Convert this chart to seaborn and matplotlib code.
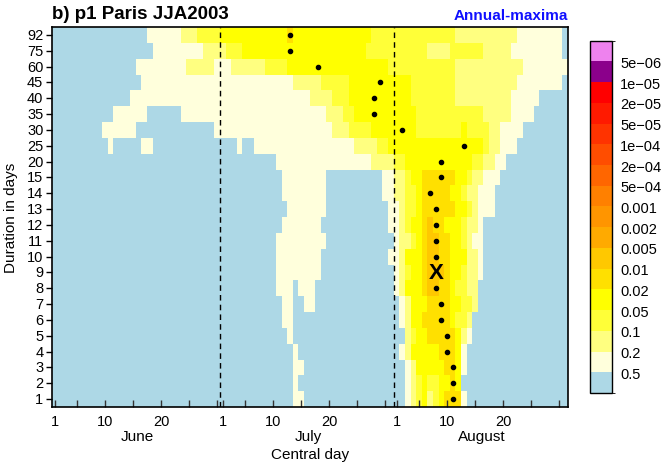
import numpy as np
import pandas as pd
import matplotlib
matplotlib.use("Agg")
import matplotlib.pyplot as plt
import seaborn as sns
from matplotlib.colors import ListedColormap, BoundaryNorm

# ---------------- data ----------------
durations = [92, 75, 60, 45, 40, 35, 30, 25, 20, 15, 14, 13, 12, 11, 10, 9, 8, 7, 6, 5, 4, 3, 2, 1]

# p-value class per central day (1 June .. 31 August = 92 days), run-length coded (class, n_days)
# class 0: >0.5, 1: 0.2-0.5, 2: 0.1-0.2, 3: 0.05-0.1, 4: 0.02-0.05, 5: 0.01-0.02, 6: 0.005-0.01
class_runs = [
    [(0,17),(1,6),(2,3),(3,4),(4,12),(5,1),(4,14),(3,15),(2,11),(1,8),(0,1)],                       # 92
    [(0,18),(1,9),(2,4),(3,3),(4,22),(3,11),(2,4),(3,6),(2,5),(1,9),(0,1)],                         # 75
    [(0,15),(1,9),(2,5),(1,3),(2,6),(3,4),(4,18),(3,12),(2,12),(1,8)],                              # 60
    [(0,16),(1,27),(2,5),(3,5),(4,11),(3,8),(2,11),(1,8),(0,1)],                                    # 45
    [(0,14),(1,32),(2,4),(3,3),(4,11),(3,8),(2,10),(1,5),(0,5)],                                    # 40
    [(0,11),(1,6),(0,6),(1,26),(2,3),(3,2),(4,11),(3,12),(2,5),(1,4),(0,6)],                        # 35
    [(0,9),(1,6),(0,14),(1,21),(2,3),(3,4),(4,8),(3,8),(4,1),(3,4),(2,2),(1,4),(0,8)],              # 30
    [(0,10),(1,1),(0,5),(1,2),(0,15),(1,1),(0,2),(1,18),(2,4),(3,2),(4,17),(3,1),(2,2),(1,3),(0,9)], # 25
    [(0,40),(1,17),(2,4),(3,2),(4,12),(3,2),(2,2),(1,2),(0,11)],                                    # 20
    [(0,41),(1,8),(0,10),(1,2),(2,2),(3,1),(4,2),(5,6),(4,2),(3,1),(2,2),(1,3),(0,12)],             # 15
    [(0,41),(1,8),(0,10),(1,2),(2,2),(3,2),(4,1),(5,5),(4,2),(3,1),(2,2),(1,3),(0,13)],             # 14
    [(0,42),(1,7),(0,11),(1,2),(2,1),(3,2),(4,1),(5,6),(4,2),(3,1),(2,1),(1,3),(0,13)],             # 13
    [(0,41),(1,7),(0,12),(1,2),(2,1),(3,1),(4,2),(5,1),(6,1),(5,2),(4,3),(3,1),(2,2),(1,1),(0,15)], # 12
    [(0,40),(1,9),(0,12),(1,1),(2,2),(3,1),(4,1),(5,1),(6,2),(5,2),(4,2),(3,1),(2,1),(1,2),(0,15)], # 11
    [(0,40),(1,8),(0,12),(1,2),(2,1),(4,3),(5,1),(6,2),(5,2),(4,3),(2,2),(1,1),(0,15)],             # 10
    [(0,40),(1,8),(0,13),(1,1),(2,1),(3,1),(4,2),(5,1),(6,3),(5,1),(4,2),(3,1),(2,2),(1,1),(0,15)], # 9
    [(0,40),(1,3),(0,1),(1,3),(0,14),(1,1),(2,1),(4,3),(5,1),(6,2),(5,2),(4,1),(3,2),(2,2),(0,16)], # 8
    [(0,41),(1,2),(0,2),(1,2),(0,15),(1,1),(2,1),(4,3),(5,4),(4,2),(3,2),(2,1),(0,16)],             # 7
    [(0,41),(1,2),(0,19),(1,1),(2,1),(4,2),(5,5),(4,1),(3,2),(2,1),(0,17)],                         # 6
    [(0,42),(1,1),(0,20),(2,1),(3,1),(4,2),(5,5),(4,1),(2,1),(1,1),(0,17)],                         # 5
    [(0,43),(1,1),(0,18),(1,1),(2,1),(4,5),(5,3),(4,1),(1,1),(0,18)],                               # 4
    [(0,43),(1,2),(0,18),(1,1),(2,1),(4,5),(5,2),(4,1),(1,1),(0,18)],                               # 3
    [(0,43),(1,1),(0,19),(1,1),(2,1),(3,1),(4,1),(3,2),(4,2),(5,1),(4,1),(0,19)],                   # 2
    [(0,43),(1,2),(0,18),(1,1),(2,1),(3,1),(4,1),(2,1),(3,1),(4,1),(5,3),(1,1),(0,18)],             # 1
]

# representative p-value of each class
class_pvalue = [0.7, 0.3, 0.15, 0.07, 0.03, 0.015, 0.007]

# annual-maximum day for each duration (black dots); 'X' marks the overall maximum
dot_durations = [92, 75, 60, 45, 40, 35, 30, 25, 20, 15, 14, 13, 12, 11, 10, 8, 7, 6, 5, 4, 3, 2, 1]
dot_days      = [43, 43, 48, 59, 58, 58, 63, 74, 70, 70, 68, 69, 69, 69, 69, 69, 70, 70, 71, 71, 72, 72, 72]
x_duration, x_day = 9, 69

bounds = [0, 5e-6, 1e-5, 2e-5, 5e-5, 1e-4, 2e-4, 5e-4, 1e-3, 2e-3, 5e-3, 0.01, 0.02, 0.05, 0.1, 0.2, 0.5, 1.0]
bound_labels = ["5e\u221206", "1e\u221205", "2e\u221205", "5e\u221205", "1e\u221204", "2e\u221204",
                "5e\u221204", "0.001", "0.002", "0.005", "0.01", "0.02", "0.05", "0.1", "0.2", "0.5"]
colors = ["#EE82EE", "#8B008B", "#FF0000", "#FF1A00", "#FF3300", "#FF4D00", "#FF6600", "#FF8000",
          "#FF9500", "#FFAA00", "#FFC800", "#FFE000", "#FFFF00", "#FFFF38", "#FFFF80", "#FFFFDC",
          "#ADD8E6"]

months = ["June", "July", "August"]
month_start = [0, 30, 61]
month_len = [30, 31, 31]
tick_days = [1, 5, 10, 15, 20, 25, 30]
labelled_days = [1, 10, 20]

# ---------------- build grid ----------------
grid = []
for runs in class_runs:
    row = []
    for cls, n in runs:
        row += [class_pvalue[cls]] * n
    grid.append(row[:92])
df = pd.DataFrame(grid, index=durations, columns=range(1, 93))

plt.rcParams["font.family"] = ["Liberation Sans", "DejaVu Sans"]
fig = plt.figure(figsize=(6.67, 4.64), dpi=100)
ax = fig.add_axes([51.7/667, 1-408/464, (567.5-51.7)/667, 380/464])
cax = fig.add_axes([590/667, 1-394/464, 21.7/667, (394-41.7)/464])

cmap = ListedColormap(colors)
norm = BoundaryNorm(bounds, cmap.N)
sns.heatmap(df, cmap=cmap, norm=norm, ax=ax, cbar_ax=cax,
            cbar_kws={"drawedges": True, "spacing": "uniform", "ticks": bounds[1:-1]},
            xticklabels=False, yticklabels=durations)

cb = ax.collections[0].colorbar
cb.ax.invert_yaxis()
cb.set_ticks(bounds[1:-1])
cb.set_ticklabels(bound_labels)
cb.ax.tick_params(length=0, labelsize=10.5, pad=6)
cb.outline.set_linewidth(1)
cb.outline.set_edgecolor("black")
cb.dividers.set_color("black")
cb.dividers.set_linewidth(0.8)

# spines
for s in ax.spines.values():
    s.set_visible(True)
    s.set_linewidth(1.2)
    s.set_color("black")

# y ticks
ax.set_yticks(np.arange(len(durations)) + 0.5)
ax.set_yticklabels([str(d) for d in durations], rotation=0, fontsize=10.5)
ax.tick_params(axis="y", direction="out", length=4, width=1, pad=2)
ax.set_ylabel("")

# x ticks
xt, xl = [], []
for m0, ml in zip(month_start, month_len):
    for d in tick_days:
        if d <= ml:
            xt.append(m0 + d - 0.5)
            xl.append(str(d) if d in labelled_days else "")
ax.set_xticks(xt)
ax.set_xticklabels(xl, fontsize=10.5, rotation=0)
ax.tick_params(axis="x", direction="in", length=5, width=1, pad=5, color="#333333")
ax.set_xlabel("")
for m, m0, ml in zip(months, month_start, month_len):
    ax.text(m0 + ml / 2.0 + 0.3, -0.077, m, transform=ax.get_xaxis_transform(),
            ha="center", va="center", fontsize=11)

# dashed month separators
for m0 in month_start[1:]:
    ax.axvline(m0, color="black", lw=1, linestyle=(0, (4, 3)))

# dots and X
row_pos = {d: i for i, d in enumerate(durations)}
ax.scatter([d - 0.5 for d in dot_days], [row_pos[d] + 0.5 for d in dot_durations],
           s=9, color="black", zorder=5)
ax.text(x_day - 0.5, row_pos[x_duration] + 0.5, "X", ha="center", va="center",
        fontsize=16, fontweight="bold", zorder=6)

# titles and labels
ax.text(0.0, 1.012, "b) p1 Paris JJA2003", transform=ax.transAxes, ha="left", va="bottom",
        fontsize=13.5, fontweight="bold")
ax.text(1.0, 1.012, "Annual-maxima", transform=ax.transAxes, ha="right", va="bottom",
        fontsize=11, fontweight="bold", color="#1010FF")
fig.text(310/667, 1-455/464, "Central day", ha="center", va="center", fontsize=11)
fig.text(11/667, 1-218/464, "Duration in days", ha="center", va="center", rotation=90, fontsize=11)

fig.savefig("out.png", dpi=100)
